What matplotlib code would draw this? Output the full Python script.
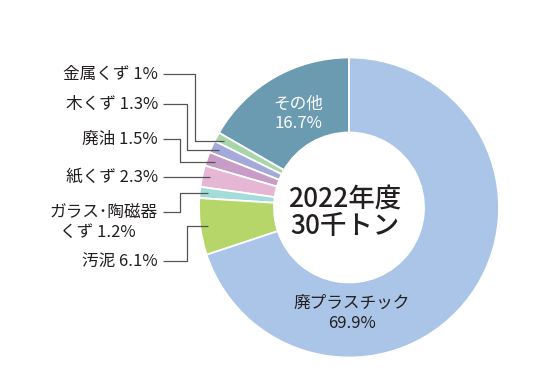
import matplotlib
matplotlib.use("Agg")
import matplotlib.pyplot as plt
import numpy as np

plt.rcParams['font.family'] = ['Noto Sans CJK JP', 'DejaVu Sans']

# Data (counter-clockwise from top)
categories = ["その他", "金属くず", "木くず", "廃油", "紙くず", "ガラス・陶磁器くず", "汚泥", "廃プラスチック"]
values = [16.7, 1.0, 1.3, 1.5, 2.3, 1.2, 6.1, 69.9]
colors = ["#6b9bb1", "#a9d6a9", "#a3a9d8", "#c79cc6", "#e6b6d5", "#a3dcd9", "#b6d66a", "#aac5e7"]
outside_labels = {
    "金属くず": "金属くず 1%",
    "木くず": "木くず 1.3%",
    "廃油": "廃油 1.5%",
    "紙くず": "紙くず 2.3%",
    "ガラス・陶磁器くず": "ガラス･陶磁器\nくず 1.2%",
    "汚泥": "汚泥 6.1%",
}
center_text = "2022年度\n30千トン"

W, H = 559, 390
fig = plt.figure(figsize=(W / 100, H / 100), dpi=100)
ax = fig.add_axes([0, 0, 1, 1])

cx, cy, R, RW = 349, 207.5, 150, 75
ax.pie(values, colors=colors, startangle=270, counterclock=False,
       center=(cx, cy), radius=R, frame=True,
       wedgeprops=dict(width=RW, edgecolor='white', linewidth=1.3))
ax.set_xlim(0, W)
ax.set_ylim(H, 0)
ax.axis('off')

# mid angles (screen, counter-clockwise from +x)
cum = np.cumsum([0] + values[:-1])
mids = {c: 90 + (s + v / 2) * 3.6 for c, s, v in zip(categories, cum, values)}

def wedge_point(cat, r):
    a = np.deg2rad(mids[cat])
    return cx + r * np.cos(a), cy - r * np.sin(a)

# label layout: (label y, bend x or None)
layout = {
    "金属くず": (74, 195),
    "木くず": (104, 187),
    "廃油": (139, 180),
    "紙くず": (177, None),
    "ガラス・陶磁器くず": (212, 180),
    "汚泥": (261, 187),
}
lx_text, lx_line = 158, 163
lc = "#555555"
fs = 12
tc = '#231f20'
for cat, (ly, bx) in layout.items():
    px, py = wedge_point(cat, 142)
    if bx is None:
        xs, ys = [lx_line, px], [ly, ly]
    else:
        xs, ys = [lx_line, bx, bx, px], [ly, ly, py, py]
    ax.plot(xs, ys, color=lc, lw=0.9, solid_capstyle='butt')
    txt = outside_labels[cat]
    if "\n" in txt:
        l1, l2 = txt.split("\n")
        ax.text(lx_text, ly, l1, ha='right', va='center', fontsize=fs, color=tc)
        ax.text(60, ly + 20, l2, ha='left', va='center', fontsize=fs, color=tc)
    else:
        ax.text(lx_text, ly, txt, ha='right', va='center', fontsize=fs, color=tc)

# inside labels
ax.text(298, 104, "その他", ha='center', va='center', fontsize=fs, color='white')
ax.text(298, 124, "16.7%", ha='center', va='center', fontsize=fs, color='white')
ax.text(352, 303, "廃プラスチック", ha='center', va='center', fontsize=fs, color=tc)
ax.text(352, 323, "69.9%", ha='center', va='center', fontsize=fs, color=tc)

# center
l1, l2 = center_text.split("\n")
ax.text(345, 199, l1, ha='center', va='center', fontsize=19, color=tc, fontweight='medium')
ax.text(345, 227, l2, ha='center', va='center', fontsize=19, color=tc, fontweight='medium')

fig.savefig("out.png", dpi=100, facecolor='white')
